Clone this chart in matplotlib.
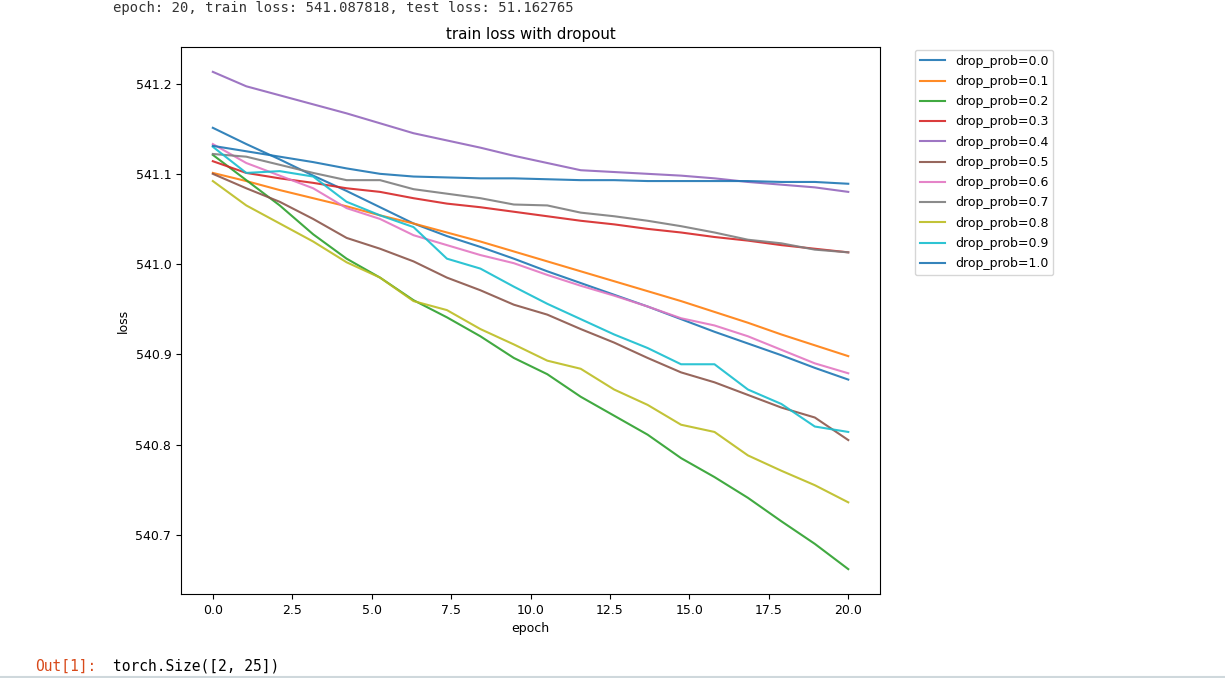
import numpy as np
import matplotlib
matplotlib.use('Agg')
import matplotlib.pyplot as plt

plt.rcParams['font.size'] = 9

epochs = np.linspace(0, 20, 20)
drop_probs = [0.0, 0.1, 0.2, 0.3, 0.4, 0.5, 0.6, 0.7, 0.8, 0.9, 1.0]

loss_00 = [541.151, 541.133, 541.116, 541.098, 541.081, 541.063, 541.045, 541.031, 541.019, 541.006,
           540.992, 540.979, 540.966, 540.953, 540.939, 540.925, 540.912, 540.899, 540.885, 540.872]
loss_01 = [541.101, 541.092, 541.082, 541.073, 541.064, 541.054, 541.045, 541.035, 541.025, 541.014,
           541.003, 540.992, 540.981, 540.970, 540.959, 540.947, 540.935, 540.922, 540.910, 540.898]
loss_02 = [541.121, 541.093, 541.065, 541.033, 541.006, 540.985, 540.960, 540.941, 540.920, 540.896,
           540.878, 540.853, 540.832, 540.811, 540.785, 540.764, 540.741, 540.715, 540.690, 540.662]
loss_03 = [541.114, 541.101, 541.095, 541.090, 541.084, 541.080, 541.073, 541.067, 541.063, 541.058,
           541.053, 541.048, 541.044, 541.039, 541.035, 541.030, 541.026, 541.021, 541.017, 541.013]
loss_04 = [541.213, 541.197, 541.187, 541.177, 541.167, 541.156, 541.145, 541.137, 541.129, 541.120,
           541.112, 541.104, 541.102, 541.100, 541.098, 541.095, 541.091, 541.088, 541.085, 541.080]
loss_05 = [541.100, 541.084, 541.069, 541.050, 541.029, 541.017, 541.003, 540.985, 540.971, 540.955,
           540.944, 540.928, 540.913, 540.896, 540.880, 540.869, 540.855, 540.841, 540.830, 540.805]
loss_06 = [541.133, 541.112, 541.098, 541.084, 541.062, 541.050, 541.032, 541.021, 541.010, 541.001,
           540.988, 540.976, 540.965, 540.953, 540.940, 540.932, 540.920, 540.905, 540.890, 540.879]
loss_07 = [541.122, 541.119, 541.110, 541.101, 541.093, 541.093, 541.083, 541.078, 541.073, 541.066,
           541.065, 541.057, 541.053, 541.048, 541.042, 541.035, 541.027, 541.023, 541.016, 541.013]
loss_08 = [541.092, 541.065, 541.045, 541.025, 541.002, 540.985, 540.959, 540.949, 540.928, 540.911,
           540.893, 540.884, 540.861, 540.844, 540.822, 540.814, 540.788, 540.771, 540.755, 540.736]
loss_09 = [541.130, 541.101, 541.103, 541.097, 541.069, 541.054, 541.041, 541.006, 540.995, 540.975,
           540.956, 540.939, 540.922, 540.907, 540.889, 540.889, 540.861, 540.845, 540.820, 540.814]
loss_10 = [541.131, 541.125, 541.119, 541.113, 541.106, 541.100, 541.097, 541.096, 541.095, 541.095,
           541.094, 541.093, 541.093, 541.092, 541.092, 541.092, 541.092, 541.091, 541.091, 541.089]

losses = [loss_00, loss_01, loss_02, loss_03, loss_04, loss_05,
          loss_06, loss_07, loss_08, loss_09, loss_10]

fig = plt.figure(figsize=(12.25, 6.78), dpi=100)
ax = fig.add_axes([0.1478, 0.1239, 0.5706, 0.8068])

for p, l in zip(drop_probs, losses):
    ax.plot(epochs, l, label=f'drop_prob={p}', linewidth=1.5, alpha=0.9)

ax.set_title('train loss with dropout')
ax.set_xlabel('epoch')
ax.set_ylabel('loss')
ax.set_xticks([0.0, 2.5, 5.0, 7.5, 10.0, 12.5, 15.0, 17.5, 20.0])
ax.set_yticks([540.7, 540.8, 540.9, 541.0, 541.1, 541.2])
ax.legend(bbox_to_anchor=(1.05, 0.995), loc='upper left', borderaxespad=0.,
          labelspacing=0.58)

# notebook bits around the figure
fig.text(0.092, 0.999, 'epoch: 20, train loss: 541.087818, test loss: 51.162765',
         family='monospace', fontsize=10, va='top', color='#333333')
fig.text(0.0286, 0.017, 'Out[1]:', family='monospace', fontsize=10.5, color='#d84a1b', va='center')
fig.text(0.092, 0.017, 'torch.Size([2, 25])', family='monospace', fontsize=10.5, va='center')
fig.add_artist(plt.Line2D([0, 1], [0.002, 0.002], color='#cfd8dc', linewidth=1.5))

fig.savefig('out.png', dpi=100)
